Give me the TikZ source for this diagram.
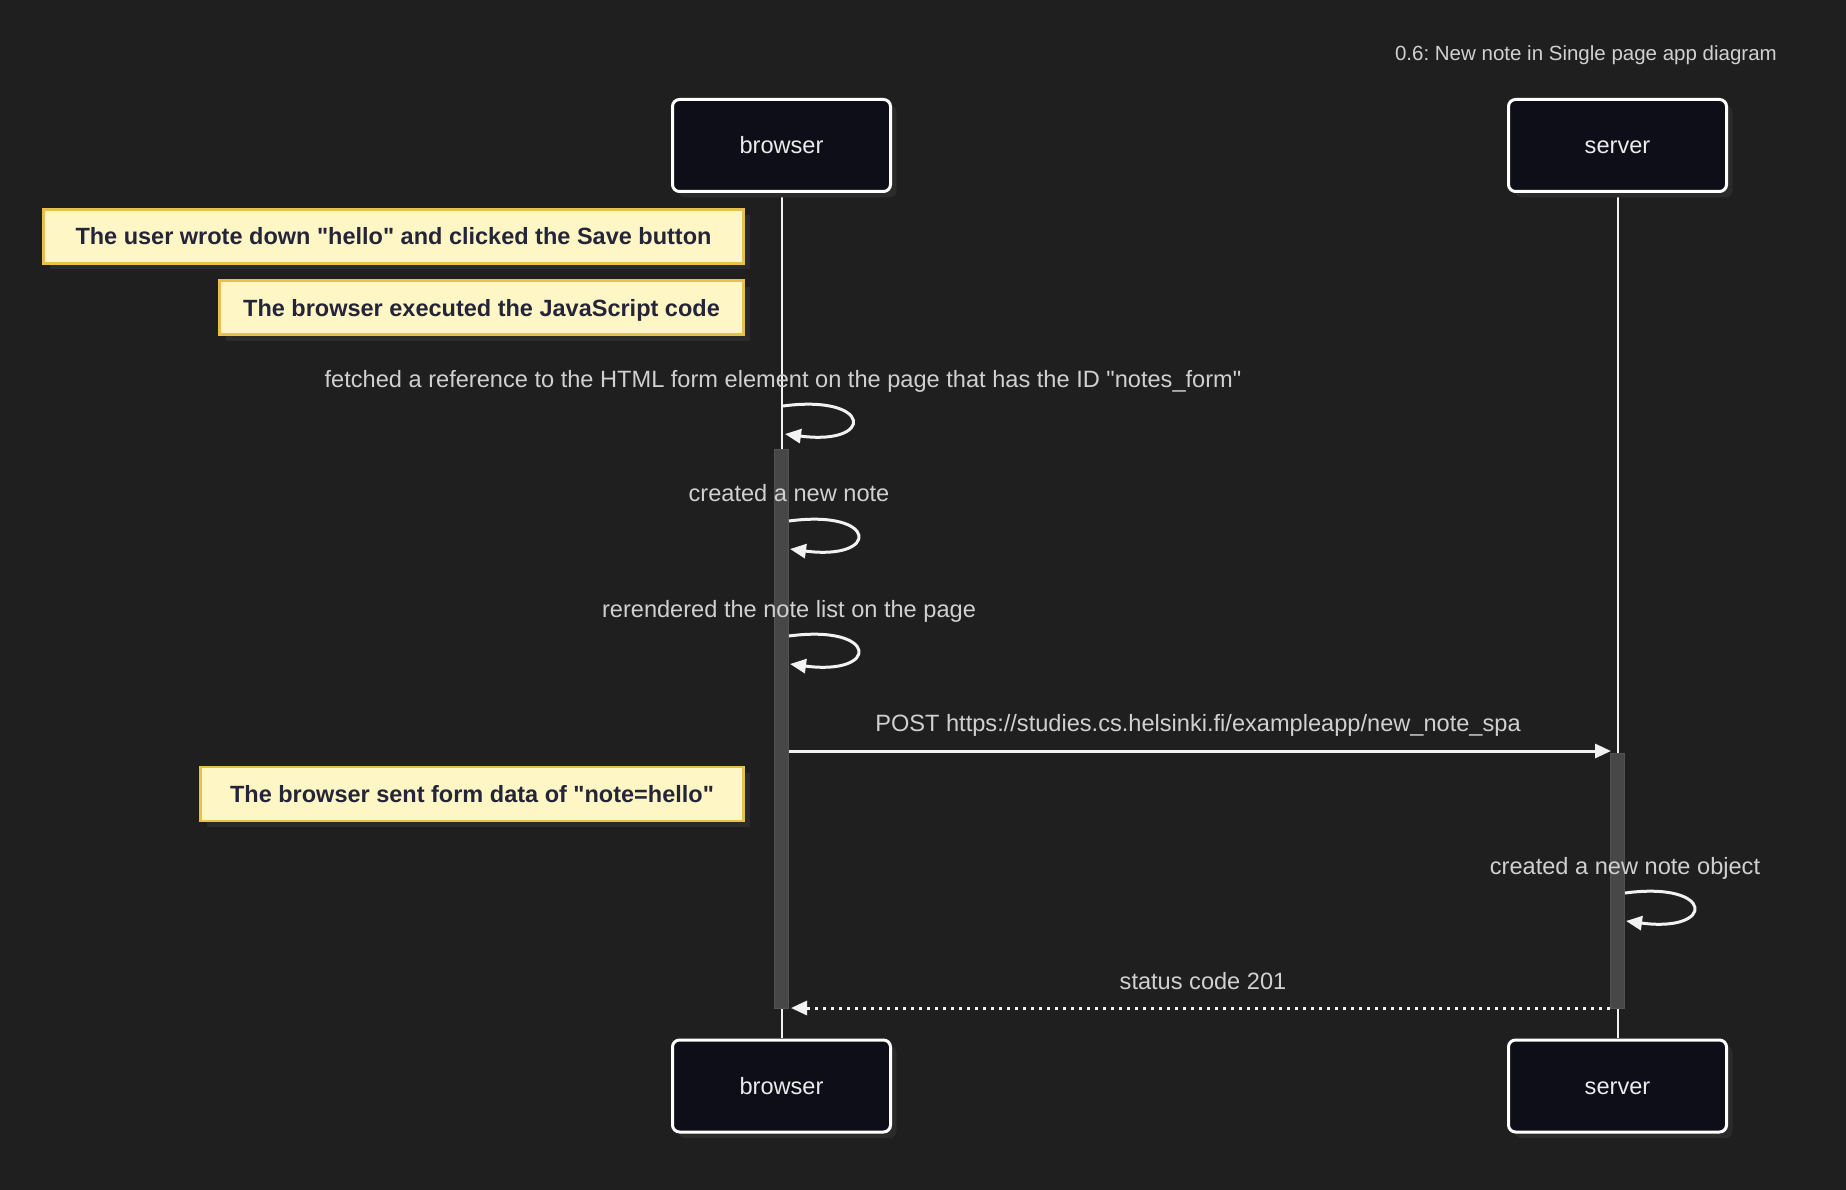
\documentclass[tikz,border=0pt]{standalone}
\usepackage{fontspec}
\setmainfont{Liberation Sans}[Ligatures=TeXOff]
\usetikzlibrary{arrows.meta,shadows}
\definecolor{bg}{HTML}{1F1F1F}
\definecolor{actorfill}{HTML}{0E0E18}
\definecolor{shadowc}{HTML}{2B2B2B}
\definecolor{actfill}{HTML}{474747}
\definecolor{actline}{HTML}{525252}
\definecolor{notefill}{HTML}{FFF6C6}
\definecolor{noteline}{HTML}{E6C24C}
\definecolor{notetext}{HTML}{25253A}
\definecolor{msgtext}{HTML}{D0D0D0}
\definecolor{linec}{HTML}{F2F2F2}
\frenchspacing
\begin{document}
\begin{tikzpicture}[x=1pt,y=-1pt,
  actor/.style={draw=white, line width=3pt, fill=actorfill, rounded corners=7pt,
    minimum width=218pt, minimum height=92pt, inner sep=0pt,
    drop shadow={shadow xshift=6pt, shadow yshift=-6pt, fill=shadowc, opacity=1}},
  actorlbl/.style={anchor=base, inner sep=0pt, text=white!92!black, font=\fontsize{23.6}{28}\selectfont},
  notebox/.style={draw=noteline, line width=2.5pt, fill=notefill, inner sep=0pt,
    minimum height=54pt,
    drop shadow={shadow xshift=6pt, shadow yshift=-6pt, fill=shadowc, opacity=1}},
  notelbl/.style={anchor=base, inner sep=0pt, text=notetext, font=\fontsize{23.5}{28}\selectfont\bfseries},
  lifeline/.style={draw=linec, line width=2pt},
  actbox/.style={fill=actfill, draw=actline, line width=1pt, minimum width=14pt, inner sep=0pt},
  msgtxt/.style={anchor=base, text=msgtext, font=\fontsize{23.6}{28}\selectfont, inner sep=0pt},
  msg/.style={draw=linec, line width=3pt, -{Triangle[length=16pt,width=14pt]}},
  reply/.style={msg, dash pattern=on 3pt off 5pt},
]
\fill[bg] (0,0) rectangle (1846,1190);
\useasboundingbox (0,0) rectangle (1846,1190);

% title
\node[anchor=base east, text=msgtext, font=\fontsize{20.5}{24}\selectfont, inner sep=0pt] (title) at (1777,61) {0.6: New note in Single page app diagram};

% lifelines (drawn first)
\coordinate (bl1) at (782,193);
\coordinate (bl2) at (782,1038);
\coordinate (sl1) at (1618,193);
\coordinate (sl2) at (1618,1038);
\draw[lifeline] (bl1) -- (bl2);
\draw[lifeline] (sl1) -- (sl2);

% actors
\node[actor] (btop) at (781.5,145.5) {};
\node[actor] (stop) at (1617.5,145.5) {};
\node[actor] (bbot) at (781.5,1086) {};
\node[actor] (sbot) at (1617.5,1086) {};
\node[actorlbl] (btopl) at (781.5,154) {browser};
\node[actorlbl] (stopl) at (1617.5,154) {server};
\node[actorlbl] (bbotl) at (781.5,1094.5) {browser};
\node[actorlbl] (sbotl) at (1617.5,1094.5) {server};

% notes
\node[notebox, minimum width=700pt] (n1) at (393.5,236.5) {};
\node[notelbl] (n1l) at (393.5,245) {The user wrote down "hello" and clicked the Save button};
\node[notebox, minimum width=524pt] (n2) at (481.5,307.5) {};
\node[notelbl] (n2l) at (481.5,316) {The browser executed the JavaScript code};

% message 1 (self)
\node[msgtxt] (t1) at (783,387) {fetched a reference to the HTML form element on the page that has the ID "notes\_form"};
\coordinate (l1s) at (783,406);
\coordinate (l1e) at (785,434);
\draw[msg] (l1s) .. controls +(90,-12) and +(90,12) .. (l1e);

% browser activation
\node[actbox, minimum height=559pt] (bact) at (781.5,728.5) {};

% message 2
\node[msgtxt] (t2) at (789,501) {created a new note};
\coordinate (l2s) at (789,521);
\coordinate (l2e) at (790,549);
\draw[msg] (l2s) .. controls +(90,-12) and +(90,12) .. (l2e);

% message 3
\node[msgtxt] (t3) at (789,617) {rerendered the note list on the page};
\coordinate (l3s) at (789,636);
\coordinate (l3e) at (790,664);
\draw[msg] (l3s) .. controls +(90,-12) and +(90,12) .. (l3e);

% POST
\node[msgtxt] (t4) at (1198,731) {POST https://studies.cs.helsinki.fi/exampleapp/new\_note\_spa};
\coordinate (p1) at (789,751);
\coordinate (p2) at (1611,751);
\draw[msg] (p1) -- (p2);

% server activation
\node[actbox, minimum height=255pt] (sact) at (1617.5,880.5) {};

% note 3
\node[notebox, minimum width=543pt] (n3) at (472,794) {};
\node[notelbl] (n3l) at (472,802.5) {The browser sent form data of "note=hello"};

% server self message
\node[msgtxt] (t5) at (1625,874) {created a new note object};
\coordinate (l4s) at (1625,893);
\coordinate (l4e) at (1626,921);
\draw[msg] (l4s) .. controls +(90,-12) and +(90,12) .. (l4e);

% reply
\node[msgtxt] (t6) at (1203,989) {status code 201};
\coordinate (r1) at (1610,1008);
\coordinate (r2) at (791,1008);
\draw[reply] (r1) -- (r2);
\end{tikzpicture}
\end{document}
